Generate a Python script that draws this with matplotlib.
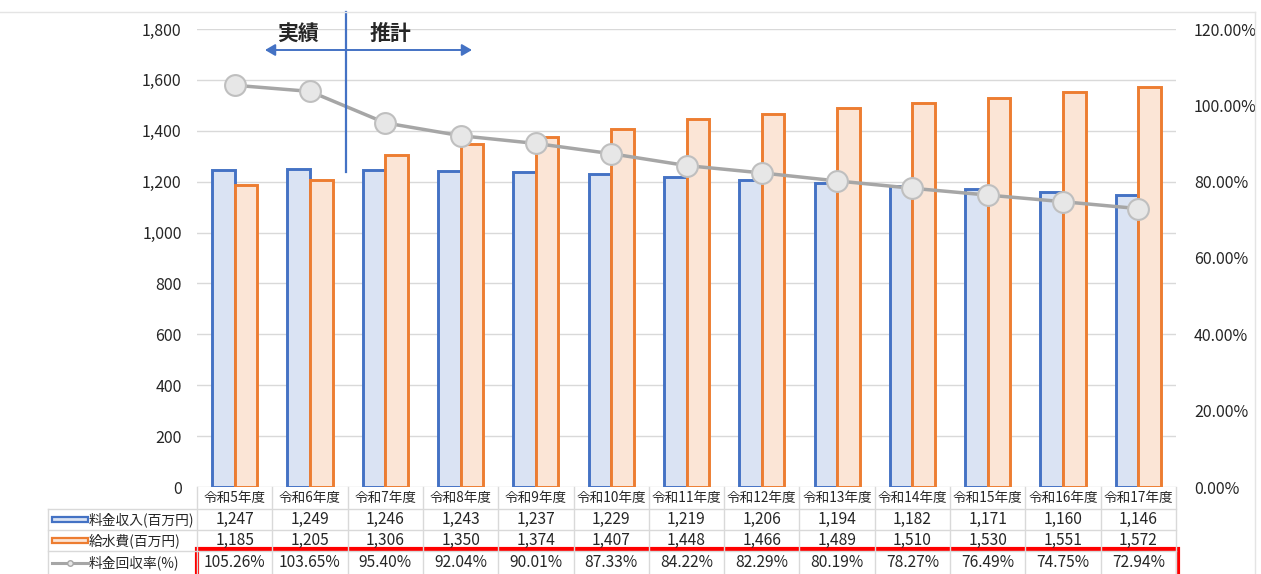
import matplotlib
matplotlib.use("Agg")
import matplotlib.pyplot as plt
import matplotlib.transforms as mtransforms
from matplotlib.patches import Rectangle, FancyArrowPatch
from matplotlib.lines import Line2D
from matplotlib.ticker import FuncFormatter, MultipleLocator

plt.rcParams['font.family'] = ['Noto Sans CJK JP', 'DejaVu Sans']

# ---- data ----
years = ["令和5年度", "令和6年度", "令和7年度", "令和8年度", "令和9年度", "令和10年度",
         "令和11年度", "令和12年度", "令和13年度", "令和14年度", "令和15年度",
         "令和16年度", "令和17年度"]
revenue = [1247, 1249, 1246, 1243, 1237, 1229, 1219, 1206, 1194, 1182, 1171, 1160, 1146]
supply_cost = [1185, 1205, 1306, 1350, 1374, 1407, 1448, 1466, 1489, 1510, 1530, 1551, 1572]
recovery_rate = [105.26, 103.65, 95.40, 92.04, 90.01, 87.33, 84.22, 82.29, 80.19,
                 78.27, 76.49, 74.75, 72.94]
series_names = ["料金収入(百万円)", "給水費(百万円)", "料金回収率(%)"]
period_labels = ["実績", "推計"]

# ---- styling ----
W, H = 1261, 574
BLUE, BLUE_FILL = "#4472C4", "#DAE3F3"
ORANGE, ORANGE_FILL = "#ED7D31", "#FBE5D6"
GRAY_LINE, MARK_FILL, MARK_EDGE = "#A6A6A6", "#E7E7E7", "#BFBFBF"
TEXT = "#262626"
GRID = "#D9D9D9"

fig = plt.figure(figsize=(W / 100, H / 100), dpi=100)


def fx(px):
    return px / W


def fy(py):
    return 1 - py / H


ax_l, ax_r, ax_t, ax_b = 197, 1176, 29, 487
ax = fig.add_axes([fx(ax_l), fy(ax_b), fx(ax_r - ax_l), (ax_b - ax_t) / H])
n = len(years)
x = list(range(n))
bw = 0.3

ax.bar([i - bw / 2 for i in x], revenue, width=bw, color=BLUE_FILL,
       edgecolor=BLUE, linewidth=2.1, zorder=3)
ax.bar([i + bw / 2 for i in x], supply_cost, width=bw, color=ORANGE_FILL,
       edgecolor=ORANGE, linewidth=2.1, zorder=3)

ax.set_xlim(-0.5, n - 0.5)
ax.set_ylim(0, 1800)
ax.yaxis.set_major_locator(MultipleLocator(200))
ax.yaxis.set_major_formatter(FuncFormatter(lambda v, p: f"{int(v):,}"))
ax.grid(axis="y", color=GRID, linewidth=1.0, zorder=0)
ax.set_xticks([])
for s in ax.spines.values():
    s.set_visible(False)
ax.tick_params(axis="y", length=0, pad=11, labelsize=11.5, labelcolor=TEXT)

ax2 = ax.twinx()
ax2.set_ylim(0, 120)
ax2.yaxis.set_major_locator(MultipleLocator(20))
ax2.yaxis.set_major_formatter(FuncFormatter(lambda v, p: f"{v:.2f}%"))
ax2.tick_params(axis="y", length=0, pad=13, labelsize=11.5, labelcolor=TEXT)
for s in ax2.spines.values():
    s.set_visible(False)
ax2.plot(x, recovery_rate, color=GRAY_LINE, linewidth=2.5, marker="o",
         markersize=15, markerfacecolor=MARK_FILL, markeredgecolor=MARK_EDGE,
         markeredgewidth=1.5, zorder=5)

# ---- actual / forecast divider ----
tr = mtransforms.blended_transform_factory(ax.transData, fig.transFigure)
col_w = (ax_r - ax_l) / n
div_x = (346 - ax_l) / col_w - 0.5
fig.add_artist(Line2D([div_x, div_x], [fy(12), fy(172)], transform=tr,
                      color=BLUE, linewidth=1.6))
left_end = (265 - ax_l) / col_w - 0.5
right_end = (472 - ax_l) / col_w - 0.5
for xe in (left_end, right_end):
    fig.add_artist(FancyArrowPatch((div_x, fy(50)), (xe, fy(50)), transform=tr,
                                   arrowstyle="-|>,head_length=6,head_width=3.5",
                                   color=BLUE, linewidth=1.4, mutation_scale=1,
                                   shrinkA=0, shrinkB=0))
fig.text(fx(298), fy(33), period_labels[0], ha="center", va="center",
         fontsize=15, fontweight="bold", color=TEXT)
fig.text(fx(390), fy(33), period_labels[1], ha="center", va="center",
         fontsize=15, fontweight="bold", color=TEXT)

# ---- data table under the axes ----
rows_y = [487, 509, 530, 551, 574]
tab_left = 48
line_kw = dict(color=GRID, linewidth=1.0)
for py in rows_y[1:4]:
    fig.add_artist(Line2D([fx(tab_left), fx(ax_r)], [fy(py), fy(py)], **line_kw))
for b in range(n + 1):
    fig.add_artist(Line2D([b - 0.5, b - 0.5], [fy(487), fy(574)], transform=tr, **line_kw))
fig.add_artist(Line2D([fx(tab_left), fx(tab_left)], [fy(509), fy(574)], **line_kw))

centers = [(rows_y[i] + rows_y[i + 1]) / 2 for i in range(4)]
for i in range(n):
    fig.text(i, fy(centers[0]), years[i], transform=tr, ha="center", va="center",
             fontsize=9.8, color=TEXT)
    fig.text(i, fy(centers[1]), f"{revenue[i]:,}", transform=tr, ha="center",
             va="center", fontsize=11.2, color=TEXT)
    fig.text(i, fy(centers[2]), f"{supply_cost[i]:,}", transform=tr, ha="center",
             va="center", fontsize=11.2, color=TEXT)
    fig.text(i, fy(centers[3]), f"{recovery_rate[i]:.2f}%", transform=tr, ha="center",
             va="center", fontsize=11.2, color=TEXT)

# legend keys in the row header column
key_x0, key_x1 = 52, 88
fig.add_artist(Rectangle((fx(key_x0), fy(centers[1] + 2)), fx(key_x1 - key_x0), 5 / H,
                         facecolor=BLUE_FILL, edgecolor=BLUE, linewidth=1.6))
fig.add_artist(Rectangle((fx(key_x0), fy(centers[2] + 2)), fx(key_x1 - key_x0), 5 / H,
                         facecolor=ORANGE_FILL, edgecolor=ORANGE, linewidth=1.6))
fig.add_artist(Line2D([fx(key_x0), fx(key_x1)], [fy(centers[3]), fy(centers[3])],
                      color=GRAY_LINE, linewidth=2.2))
fig.add_artist(Line2D([fx((key_x0 + key_x1) / 2)], [fy(centers[3])], marker="o",
                      markersize=4, markerfacecolor=MARK_FILL,
                      markeredgecolor=GRAY_LINE, linestyle="none"))
for r, name in enumerate(series_names):
    fig.text(fx(key_x1 + 1), fy(centers[r + 1]), name, ha="left", va="center",
             fontsize=9.9, color=TEXT)

# highlight box around the recovery-rate row
fig.add_artist(Rectangle((fx(ax_l), fy(576)), fx(ax_r - ax_l + 2), 27 / H,
                         facecolor="none", edgecolor="#FF0000", linewidth=3.0))

# outer chart frame (top and right)
fig.add_artist(Line2D([fx(0), fx(1255)], [fy(12), fy(12)], color="#E4E4E4", linewidth=1.0))
fig.add_artist(Line2D([fx(1255), fx(1255)], [fy(12), fy(574)], color="#E4E4E4", linewidth=1.0))

fig.savefig("out.png", dpi=100)
